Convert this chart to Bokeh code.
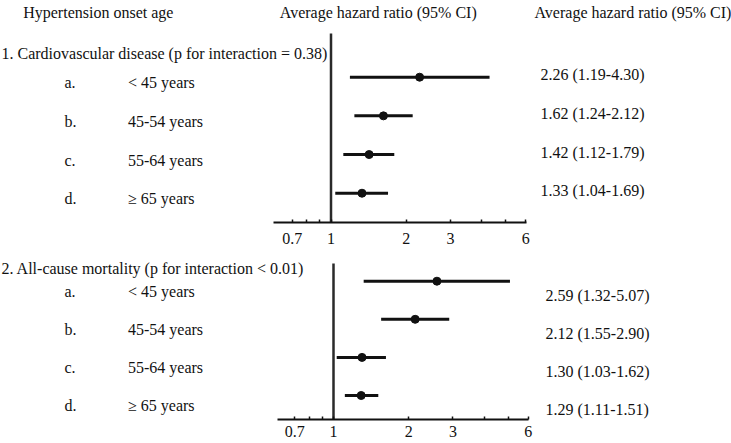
import math
from bokeh.plotting import figure
from bokeh.layouts import column
from bokeh.models import Range1d, FixedTicker, ColumnDataSource, LabelSet, Label
from bokeh.core.properties import value
from bokeh.embed import file_html
from bokeh.resources import INLINE

# ---------------- data ----------------
header_left = "Hypertension onset age"
header_mid = "Average hazard ratio (95% CI)"
header_right = "Average hazard ratio (95% CI)"
row_letters = ["a.", "b.", "c.", "d."]
age_groups = ["< 45 years", "45-54 years", "55-64 years", "\u2265 65 years"]

cvd_title = "1. Cardiovascular disease (p for interaction = 0.38)"
cvd_hr = [2.26, 1.62, 1.42, 1.33]
cvd_lo = [1.19, 1.24, 1.12, 1.04]
cvd_hi = [4.30, 2.12, 1.79, 1.69]

mort_title = "2. All-cause mortality (p for interaction < 0.01)"
mort_hr = [2.59, 2.12, 1.30, 1.29]
mort_lo = [1.32, 1.55, 1.03, 1.11]
mort_hi = [5.07, 2.90, 1.62, 1.51]

tick_values = [0.7, 0.8, 0.9, 1.0, 2.0, 3.0, 4.0, 5.0, 6.0]
tick_labels = ["0.7", "", "", "1", "2", "3", "", "", "6"]
null_value = 1.0

# ---------------- style / layout ----------------
FONT = "Liberation Serif"
INK = "#111111"
W = 731
PX_PER_LN = 108.7


def make_panel(title, hr, lo, hi, cfg, headers=False):
    H, BB = cfg["height"], cfg["border_bottom"]
    frame_h = H - BB
    x1 = cfg["x_one"]
    r0, gap = cfg["row_top"], cfg["row_gap"]

    def ydata(px):
        return (px - r0) / gap

    x_range = Range1d(math.exp(-x1 / PX_PER_LN), math.exp((W - x1) / PX_PER_LN))
    y_range = Range1d(ydata(frame_h), ydata(0))
    p = figure(width=W, height=H, x_axis_type="log", x_range=x_range, y_range=y_range,
               y_axis_location=None, toolbar_location=None, output_backend="svg",
               min_border_left=0, min_border_right=0, min_border_top=0,
               min_border_bottom=BB)
    p.outline_line_color = None
    p.grid.visible = False

    ax = p.xaxis[0]
    ax.ticker = FixedTicker(ticks=tick_values)
    ax.major_label_overrides = {v: t for v, t in zip(tick_values, tick_labels)}
    ax.bounds = cfg["bounds"]
    ax.axis_line_width = 2
    ax.axis_line_color = INK
    ax.major_tick_in = 3
    ax.major_tick_out = 0
    ax.major_tick_line_width = 1.5
    ax.major_tick_line_color = INK
    ax.minor_tick_line_color = None
    ax.major_label_standoff = cfg["standoff"]
    ax.major_label_text_font = FONT
    ax.major_label_text_font_size = "16px"
    ax.major_label_text_color = INK

    rows = list(range(len(hr)))
    # reference line at HR = 1
    p.segment(x0=[null_value], x1=[null_value], y0=[ydata(cfg["line_top"])],
              y1=[ydata(frame_h)], line_width=2.5, line_color="#2a2a2a")
    # confidence intervals and point estimates
    p.segment(x0=lo, x1=hi, y0=rows, y1=rows, line_width=3, line_color=INK)
    p.scatter(x=hr, y=rows, size=8, color=INK)

    est = [f"{h:.2f} ({l:.2f}-{u:.2f})" for h, l, u in zip(hr, lo, hi)]
    src = ColumnDataSource(dict(y=rows, letter=row_letters, group=age_groups, est=est))
    common = dict(source=src, x_units="screen", y_units="data",
                  text_font=value(FONT), text_font_size=value("16px"),
                  text_color=INK, text_baseline=value("alphabetic"),
                  text_align=value("left"))
    p.add_layout(LabelSet(x=cfg["letter_x"], y="y", text="letter",
                          y_offset=-cfg["label_dy"], **common))
    p.add_layout(LabelSet(x=cfg["group_x"], y="y", text="group",
                          y_offset=-cfg["label_dy"], **common))
    p.add_layout(LabelSet(x=cfg["value_x"], y="y", text="est",
                          y_offset=-cfg["value_dy"], **common))

    p.add_layout(Label(x=cfg["title_x"], y=ydata(cfg["title_y"]), text=title,
                       x_units="screen", y_units="data", text_font=FONT,
                       text_font_size="16px", text_color=INK,
                       text_baseline="alphabetic"))
    if headers:
        for hx, htext in zip(cfg["header_x"], [header_left, header_mid, header_right]):
            p.add_layout(Label(x=hx, y=ydata(cfg["header_y"]), text=htext,
                               x_units="screen", y_units="data", text_font=FONT,
                               text_font_size="16px", text_color=INK,
                               text_baseline="alphabetic"))
    return p


cfg1 = dict(height=250, border_bottom=28, x_one=330.5, row_top=76.7, row_gap=38.67,
            line_top=33, bounds=(0.59, 6.04), standoff=10, letter_x=64, group_x=127.5,
            value_x=540, label_dy=11, value_dy=3, title_x=1, title_y=52.5,
            header_x=[22.7, 279.3, 534], header_y=12)
cfg2 = dict(height=193, border_bottom=24, x_one=333, row_top=30.7, row_gap=38.1,
            line_top=13, bounds=(0.6, 6.0), standoff=6, letter_x=64, group_x=127.5,
            value_x=545, label_dy=15.8, value_dy=19.5, title_x=1, title_y=18.3)

p1 = make_panel(cvd_title, cvd_hr, cvd_lo, cvd_hi, cfg1, headers=True)
p2 = make_panel(mort_title, mort_hr, mort_lo, mort_hi, cfg2)

layout = column(p1, p2, spacing=0)
open("out.html", "w").write(file_html(layout, INLINE))
